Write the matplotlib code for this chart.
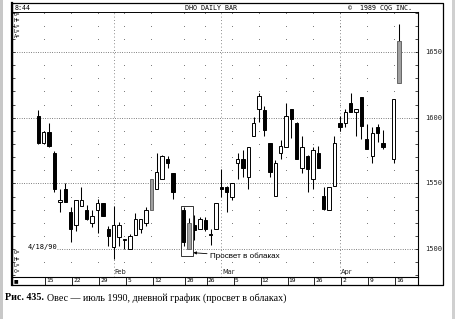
import numpy as np
import matplotlib.pyplot as plt
from matplotlib.patches import Rectangle

# daily oats futures, July 1990 contract
dates = [
    "1990-01-12", "1990-01-15", "1990-01-16", "1990-01-17", "1990-01-18", "1990-01-19",
    "1990-01-22", "1990-01-23", "1990-01-24", "1990-01-25", "1990-01-26",
    "1990-01-29", "1990-01-30", "1990-01-31", "1990-02-01", "1990-02-02",
    "1990-02-05", "1990-02-06", "1990-02-07", "1990-02-08", "1990-02-09",
    "1990-02-12", "1990-02-13", "1990-02-14", "1990-02-15", "1990-02-16",
    "1990-02-20", "1990-02-21", "1990-02-22", "1990-02-23",
    "1990-02-26", "1990-02-27", "1990-02-28", "1990-03-01", "1990-03-02",
    "1990-03-05", "1990-03-06", "1990-03-07", "1990-03-08", "1990-03-09",
    "1990-03-12", "1990-03-13", "1990-03-14", "1990-03-15", "1990-03-16",
    "1990-03-19", "1990-03-20", "1990-03-21", "1990-03-22", "1990-03-23",
    "1990-03-26", "1990-03-27", "1990-03-28", "1990-03-29", "1990-03-30",
    "1990-04-02", "1990-04-03", "1990-04-04", "1990-04-05", "1990-04-06",
    "1990-04-09", "1990-04-10", "1990-04-11", "1990-04-12",
    "1990-04-16", "1990-04-17",
]
opens = [
    1601, 1580.5, 1589, 1573, 1535.5, 1546,
    1528, 1518.5, 1533, 1530, 1519.5,
    1530, 1535, 1515.5, 1501.5, 1509.5,
    1507, 1500, 1510.5, 1515.5, 1519.5,
    1530, 1545.5, 1553, 1568.5, 1558,
    1530, 1500, 1518.5, 1515,
    1522, 1510.5, 1515, 1547.5, 1547.5,
    1540, 1565.5, 1568.5, 1555, 1586,
    1606.5, 1606, 1580.5, 1540.5, 1573,
    1578, 1606.5, 1596, 1561.5, 1571,
    1553, 1573.5, 1540.5, 1530, 1548,
    1596, 1596, 1611, 1604.5, 1616,
    1583.5, 1571, 1593, 1580.5,
    1568.5, 1626.5,
]
highs = [
    1606, 1589.5, 1596, 1574.5, 1546, 1550,
    1532, 1537.5, 1547, 1533.5, 1529.5,
    1538, 1535, 1517.5, 1532.5, 1520.5,
    1507.5, 1511.5, 1527.5, 1522.5, 1532,
    1553, 1573.5, 1571.5, 1571, 1558,
    1532, 1523.5, 1526, 1524.5,
    1524.5, 1515, 1535, 1561, 1548,
    1550.5, 1573.5, 1575.5, 1578, 1600.5,
    1618.5, 1609, 1580.5, 1568, 1583,
    1611.5, 1606.5, 1597, 1586, 1571.5,
    1578, 1578.5, 1547.5, 1547.5, 1586,
    1601.5, 1606.5, 1619, 1606.5, 1616,
    1595.5, 1593, 1595.5, 1590.5,
    1614, 1671,
]
lows = [
    1580, 1580.5, 1578, 1543.5, 1528.5, 1535.5,
    1505.5, 1514, 1532.5, 1522, 1516.5,
    1512.5, 1525, 1502.5, 1492.5, 1502.5,
    1500, 1500, 1510.5, 1512, 1517.5,
    1530, 1545.5, 1553, 1561.5, 1538,
    1502.5, 1500, 1507, 1515,
    1514, 1503, 1515, 1540, 1528.5,
    1537.5, 1553, 1555, 1546, 1586,
    1596.5, 1586, 1555, 1540.5, 1568.5,
    1578, 1584.5, 1568.5, 1558, 1543.5,
    1546, 1561.5, 1530, 1530, 1548,
    1589.5, 1593, 1604, 1586, 1583.5,
    1576, 1565.5, 1581.5, 1576,
    1565.5, 1626.5,
]
closes = [
    1580.5, 1589, 1578.5, 1546, 1537.5, 1535.5,
    1515, 1537, 1537.5, 1522.5, 1525.5,
    1535, 1525, 1510, 1518.5, 1518,
    1507.5, 1510, 1522.5, 1522.5, 1530,
    1553, 1558.5, 1571, 1565.5, 1543.5,
    1505.5, 1519.5, 1514.5, 1522.5,
    1515, 1510.8, 1535, 1545.5, 1543.5,
    1550.5, 1568.5, 1561.5, 1578, 1596,
    1616.5, 1590.5, 1559, 1565.5, 1578.5,
    1601.5, 1599, 1568.5, 1578, 1561,
    1575.5, 1561.5, 1530.5, 1547.5, 1580.5,
    1593, 1604, 1604, 1606.5, 1593.5,
    1576, 1588.5, 1588.5, 1578,
    1614, 1658.5,
]
shaded_days = ["1990-02-12", "1990-02-21", "1990-04-17"]
pattern_days = ["1990-02-20", "1990-02-21"]
price_levels = [1500, 1550, 1600, 1650]
pattern_label = "Просвет в облаках"
caption_num = "Рис. 435."
caption_text = "Овес — июль 1990, дневной график (просвет в облаках)"

W, H = 455, 319
MONO = "DejaVu Sans Mono"

d = np.array(dates, dtype="datetime64[D]")
slot = np.busday_count(d[0], d)  # one slot per weekday, holidays stay empty
o, h, l, c = (np.asarray(v, dtype=float) for v in (opens, highs, lows, closes))
days = [x.day for x in d.astype(object)]
months = [x.month for x in d.astype(object)]
weeks = (d - np.datetime64("1990-01-01")).astype(int) // 7
week_start = [i for i in range(1, len(d)) if weeks[i] != weeks[i - 1]]
month_start = [i for i in range(1, len(d)) if months[i] != months[i - 1]]
month_names = {2: "Feb", 3: "Mar", 4: "Apr"}

fig = plt.figure(figsize=(W / 100, H / 100), dpi=100)
fr = fig.add_axes([0, 0, 1, 1])
fr.set_xlim(0, W)
fr.set_ylim(H, 0)
fr.axis("off")


def px_box(x0, y0, x1, y1):
    return [x0 / W, 1 - y1 / H, (x1 - x0) / W, (y1 - y0) / H]


ax = fig.add_axes(px_box(12, 12, 418, 277))
ax.set_facecolor("none")
step = 5.385
ax.set_xlim(-(38.3 - 12) / step, (418 - 38.3) / step)
ax.set_ylim(1478.7, 1680.5)
for s in ax.spines.values():
    s.set_visible(False)
ax.set_xticks([])
ax.set_yticks(np.arange(1480, 1681, 10))
ax.tick_params(axis="y", direction="in", length=2, width=0.5,
               left=True, right=True, labelleft=False)

# grid: dotted price lines, sparse dots at week starts, month dividers
for p in price_levels:
    x0 = 3.5 if p == price_levels[0] else ax.get_xlim()[0]
    ax.hlines(p, x0, ax.get_xlim()[1], color="#555555", lw=0.6,
              linestyle=(0, (1, 1.8)), zorder=1)
dot_levels = [v for v in range(1490, 1681, 10) if v % 50]
gx, gy = np.meshgrid(slot[week_start], dot_levels)
ax.scatter(gx.ravel(), gy.ravel(), s=0.4, color="#666666", lw=0, zorder=1)
for i in month_start:
    ax.axvline(slot[i], color="#666666", lw=0.6, linestyle=(0, (1, 3)), zorder=1)
    ax.text(slot[i] + 0.2, 0.008, month_names[months[i]], transform=ax.get_xaxis_transform(),
            fontsize=4.8, ha="left", va="bottom", color="#222222")

# candles
up = c >= o
fill = np.where(up, "white", "black").astype(object)
edge = np.array(["black"] * len(d), dtype=object)
for i, day in enumerate(dates):
    if day in shaded_days:
        fill[i] = "#a0a0a0"
        edge[i] = "#666666"
ax.vlines(slot, l, h, color="black", lw=0.75, zorder=2)
ax.bar(slot, np.maximum(np.abs(c - o), 0.6), bottom=np.minimum(o, c), width=0.62,
       color=list(fill), edgecolor=list(edge), linewidth=0.7, zorder=3)

# dark cloud piercing box + label
pi = [dates.index(x) for x in pattern_days]
bx0, bx1 = slot[pi[0]] - 0.45, slot[pi[-1]] + 0.75
by0, by1 = l[pi].min() - 5.3, h[pi].max() + 0.4
ax.add_patch(Rectangle((bx0, by0), bx1 - bx0, by1 - by0, fill=False,
                       edgecolor="#333333", lw=0.7, zorder=4))
ax.annotate(pattern_label, xy=(bx1 + 0.05, by0 + 2.5), xytext=(bx1 + 3.1, by0 - 0.3),
            fontsize=5.8, fontfamily="Liberation Sans", va="center", ha="left",
            arrowprops=dict(arrowstyle="-|>", color="black", lw=0.6,
                            mutation_scale=4, shrinkA=0, shrinkB=0))

# price labels at right
for p in price_levels:
    ax.text(1.018, p, str(p), transform=ax.get_yaxis_transform(),
            fontsize=5, fontfamily=MONO, va="center", ha="left", color="#222222")

# date strip under the plot
xt = ax.get_xaxis_transform()
sh = -8 / 265
for i in week_start:
    ax.plot([slot[i] + 0.28] * 2, [sh, 0], transform=xt, color="black", lw=0.6, clip_on=False)
    ax.text(slot[i] + 0.5, sh / 2, str(days[i]), transform=xt, fontsize=4.5,
            fontfamily=MONO, ha="left", va="center")

# frame
fr.plot([12, 443, 443, 12, 12], [3, 3, 285, 285, 3], color="black", lw=0.9)
fr.plot([12, 12], [3, 285], color="black", lw=1.6)
fr.plot([12, 418], [12, 12], color="black", lw=0.7)
fr.plot([418, 418], [12, 285], color="black", lw=0.8)
fr.plot([12, 418], [277, 277], color="black", lw=0.8)
fr.add_patch(Rectangle((0, 0), 3, H, color="#c8c8c8", lw=0))
fr.add_patch(Rectangle((452, 0), 3, H, color="#d0d0d0", lw=0))

# header and corner texts
fr.text(15, 7.5, "8:44", fontsize=4.8, fontfamily=MONO, va="center")
fr.text(211, 7.5, "DHO DAILY BAR", fontsize=4.8, fontfamily=MONO, va="center", ha="center")
fr.text(348, 7.5, "©  1989 CQG INC.", fontsize=4.8, fontfamily=MONO, va="center")
for k, lab in enumerate(["O=", "H=", "L=", "L=", "A="]):
    fr.text(14, 15 + 5.5 * k, lab, fontsize=3.8, fontfamily=MONO, va="center")
for k, lab in enumerate(["O=", "H=", "L=", "C="]):
    fr.text(14, 253 + 6.2 * k, lab, fontsize=3.8, fontfamily=MONO, va="center")
fr.text(28, 246.5, "4/18/90", fontsize=5, fontfamily=MONO, va="center")
fr.text(14, 281, "■", fontsize=3.5, va="center")

# caption
t1 = fr.text(5, 298, caption_num, fontsize=7.2, fontfamily="Liberation Serif",
             fontweight="bold", va="center")
fig.canvas.draw()
x_end = t1.get_window_extent().x1
fr.text(x_end + 3, 298, caption_text, fontsize=7.2, fontfamily="Liberation Serif", va="center")

fig.savefig("out.png", dpi=100)
plt.close(fig)
